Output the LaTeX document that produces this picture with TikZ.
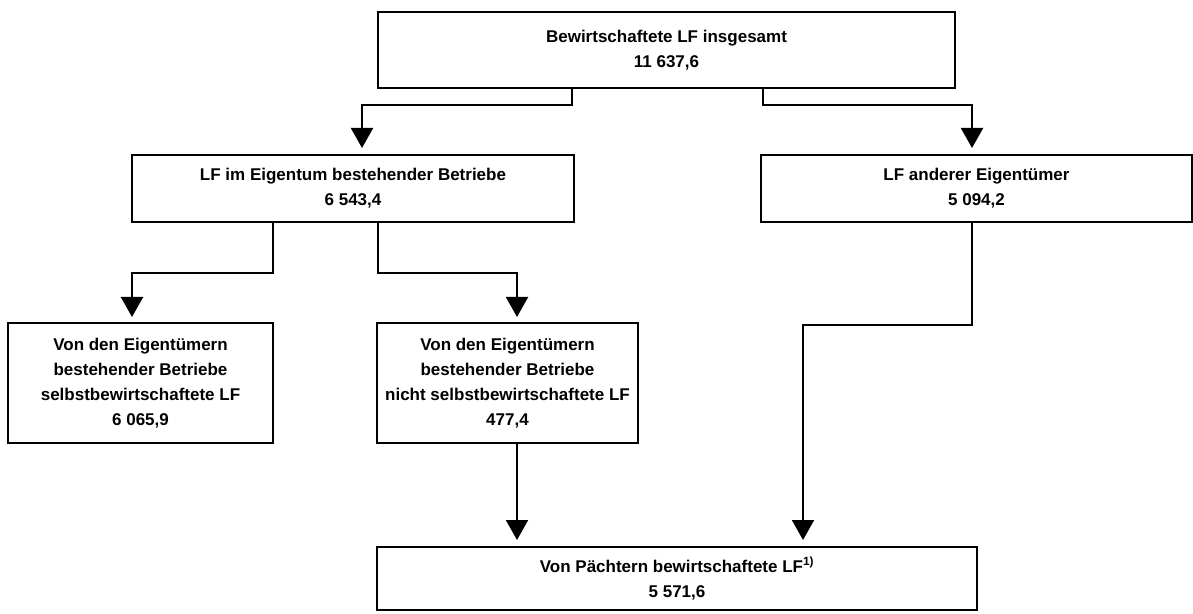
\documentclass[tikz,border=0pt]{standalone}
\usepackage{fontspec}
\setmainfont{Liberation Sans}
\usetikzlibrary{arrows.meta,positioning}

\tikzset{
  box/.style={draw, line width=2pt, inner sep=0pt, outer sep=0pt, align=center,
    font=\fontsize{17}{25}\selectfont\bfseries},
  flow/.style={line width=2pt, -{Triangle[width=22pt,length=20pt]}},
}

\begin{document}
\begin{tikzpicture}[x=1pt,y=1pt]
  \useasboundingbox (0,0) rectangle (1193,613);

  % draw the boxes
  \node[box, minimum width=577pt, minimum height=76pt] (total) at (666.5,563)
    {Bewirtschaftete LF insgesamt\\11 637,6};
  \node[box, minimum width=442pt, minimum height=67pt] (eigen) at (353,424.5)
    {LF im Eigentum bestehender Betriebe\\6 543,4};
  \node[box, minimum width=431pt, minimum height=67pt] (fremd) at (976.5,424.5)
    {LF anderer Eigentümer\\5 094,2};
  \node[box, minimum width=265pt, minimum height=120pt] (selbst) at (140.5,230)
    {Von den Eigentümern\\bestehender Betriebe\\selbstbewirtschaftete LF\\6 065,9};
  \node[box, minimum width=261pt, minimum height=120pt] (nichtselbst) at (507.5,230)
    {Von den Eigentümern\\bestehender Betriebe\\nicht selbstbewirtschaftete LF\\477,4};
  \node[box, minimum width=600pt, minimum height=63pt] (paechter) at (677,34.5)
    {Von Pächtern bewirtschaftete LF\textsuperscript{1)}\\5 571,6};

  % draw the arrows between the boxes
  \draw[flow] ([xshift=-94.5pt]total.south) -- ++(0,-17) -| ([xshift=9pt,yshift=7pt]eigen.north);
  \draw[flow] ([xshift=96.5pt]total.south) -- ++(0,-17) -| ([xshift=-4.5pt,yshift=7pt]fremd.north);
  \draw[flow] ([xshift=-80pt]eigen.south) -- ++(0,-51) -| ([xshift=-8.5pt,yshift=6pt]selbst.north);
  \draw[flow] ([xshift=25pt]eigen.south) -- ++(0,-51) -| ([xshift=9.5pt,yshift=6pt]nichtselbst.north);
  \draw[flow] ([xshift=9.5pt]nichtselbst.south) -- ([xshift=-160pt,yshift=7pt]paechter.north);
  \draw[flow] ([xshift=-4.5pt]fremd.south) -- ++(0,-103) -| ([xshift=126pt,yshift=7pt]paechter.north);
\end{tikzpicture}
\end{document}
